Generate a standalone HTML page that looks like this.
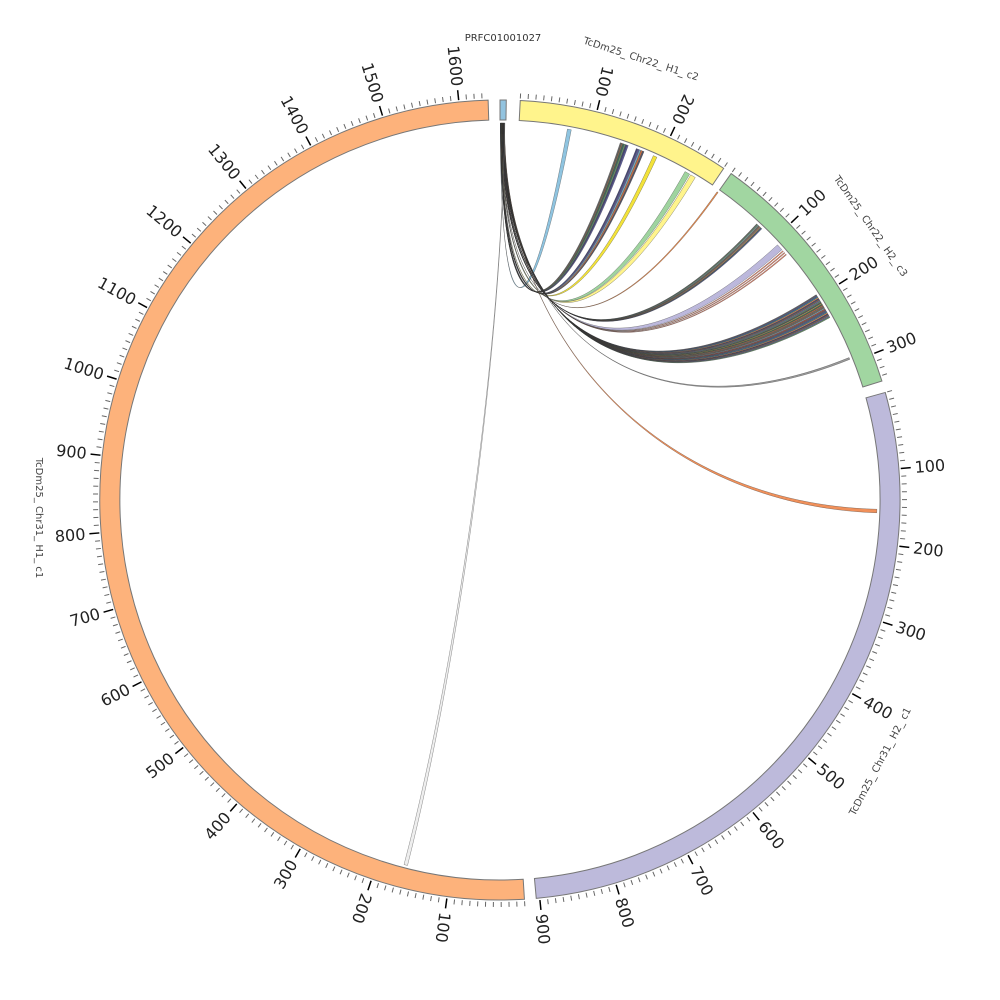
<!DOCTYPE html>
<html><head><meta charset="utf-8"><style>
html,body{margin:0;padding:0;background:#fff;}
svg{display:block;}
text{font-family:"DejaVu Sans","Liberation Sans",sans-serif;}
</style></head><body>
<svg id="s" width="1000" height="1000" viewBox="0 0 1000 1000" xmlns="http://www.w3.org/2000/svg">
<g id="rib"></g><g id="ide"></g><g id="tk"></g>
<text x="503" y="41" font-size="10" fill="#333" text-anchor="middle">PRFC01001027</text>
<text transform="translate(640,62) rotate(18)" font-size="10" fill="#444" text-anchor="middle">TcDm25_ Chr22_ H1_ c2</text>
<text transform="translate(868,228) rotate(55)" font-size="10" fill="#444" text-anchor="middle">TcDm25_ Chr22_ H2_ c3</text>
<text transform="translate(883,763) rotate(-62)" font-size="10" fill="#444" text-anchor="middle">TcDm25_ Chr31_ H2_ c1</text>
<text transform="translate(36,518) rotate(90)" font-size="10" fill="#444" text-anchor="middle">TcDm25_ Chr31_ H1_ c1</text>
</svg>
<script>
var C=500,S=0.111,NS="http://www.w3.org/2000/svg";
function P(a,r){var t=a*Math.PI/180;return [C+r*Math.sin(t),C-r*Math.cos(t)];}
function f(p){return p[0].toFixed(2)+","+p[1].toFixed(2);}
function el(g,tag,attrs,txt){var e=document.createElementNS(NS,tag);for(var k in attrs)e.setAttribute(k,attrs[k]);if(txt!=null)e.textContent=txt;document.getElementById(g).appendChild(e);return e;}
var R1=380,R2=400;
var segs=[
 {a:0.0,b:0.9,c:"#92c3df",tick:false},
 {a:2.9,b:34.0,c:"#fff48c",tick:true},
 {a:35.3,b:72.7,c:"#a1d6a1",tick:true},
 {a:74.4,b:174.8,c:"#bdbadb",tick:true},
 {a:176.5,b:358.3,c:"#fdb27b",tick:true}
];
segs.forEach(function(s){
 var large=(s.b-s.a)>180?1:0;
 var d="M"+f(P(s.a,R1))+" L"+f(P(s.a,R2))+" A"+R2+","+R2+" 0 "+large+" 1 "+f(P(s.b,R2))+" L"+f(P(s.b,R1))+" A"+R1+","+R1+" 0 "+large+" 0 "+f(P(s.a,R1))+"Z";
 el("ide","path",{d:d,fill:s.c,stroke:"#777","stroke-width":1});
 if(!s.tick)return;
 var n=Math.floor((s.b-s.a)/S/10);
 for(var i=0;i<=n;i++){
  var a=s.a+i*10*S, maj=(i%10==0&&i>0);
  var p1=P(a,R2+2),p2=P(a,maj?R2+12:R2+7);
  el("tk","line",{x1:p1[0],y1:p1[1],x2:p2[0],y2:p2[1],stroke:maj?"#000":"#666","stroke-width":maj?1.5:1});
  if(maj){
   var am=((a%360)+360)%360, out=(am>=30&&am<205);
   var q=P(a,R2+16), rot=out?a-90:a+90;
   el("tk","text",{transform:"translate("+q[0].toFixed(1)+","+q[1].toFixed(1)+") rotate("+rot.toFixed(1)+")","font-size":16,fill:"#222","text-anchor":out?"start":"end","dominant-baseline":"central"},String(i*10));
  }
 }
});
var RR=377;
function rib(s1,s2,t1,t2,col){
 var a=P(s1,RR),b=P(s2,RR),c=P(t1,RR),d=P(t2,RR);
 var k=160;
 var path="M"+f(a)+" A"+RR+","+RR+" 0 0 1 "+f(b)+
  " C"+f(P(s2,k))+" "+f(P(t1,k))+" "+f(c)+
  " A"+RR+","+RR+" 0 0 1 "+f(d)+
  " C"+f(P(t2,k))+" "+f(P(s1,k))+" "+f(a)+"Z";
 el("rib","path",{d:path,fill:col,stroke:"#333","stroke-width":0.35,"stroke-opacity":0.8});
}
var pal=["#6a6a6a","#8a6d55","#3f6f5f","#6a9a6a","#44447a","#5a5aa0","#7bb0c4","#d4703f","#556","#8a6c4c","#3e8e9e","#c04a3e","#777","#b8a848","#7070b0","#f0905a"];
var src=0.05;
function add(t1,t2,col,w){var s1=src,s2=src+(w||0.02);rib(s1,s2,t1,t2,col);src+=0.012;if(src>0.8)src=0.06;}
add(10.3,10.9,"#8fc4e0",0.05);
for(var i=0;i<6;i++)add(18.6+i*0.22,18.8+i*0.22,pal[i]);
for(var i=0;i<5;i++)add(21.2+i*0.26,21.42+i*0.26,pal[(i+4)%16]);
add(24.0,24.6,"#f2e23a",0.03);
add(29.4,30.2,"#9fd49f",0.04);
add(30.4,31.2,"#fff48c",0.04);
add(35.15,35.35,"#e98a4c");
for(var i=0;i<8;i++)add(42.9+i*0.14,43.02+i*0.14,pal[(i*3)%16]);
add(47.4,48.4,"#bcb8dc",0.04);
for(var i=0;i<3;i++)add(48.6+i*0.35,48.75+i*0.35,"#e8846a");
for(var i=0;i<24;i++)add(57.0+i*0.17,57.15+i*0.17,pal[(i*5)%16]);
add(67.8,68.1,"#999");
add(91.4,91.95,"#f0905a",0.03);
add(194.2,194.75,"#eeeeee",0.05);
</script>
</body></html>
